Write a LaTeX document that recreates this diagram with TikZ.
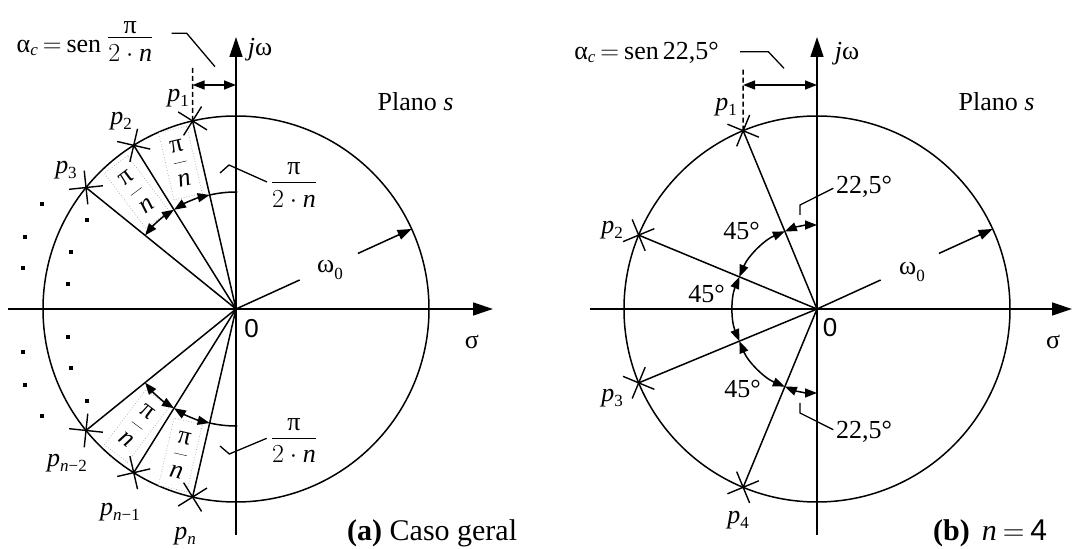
\documentclass[tikz,border=0pt]{standalone}
\usepackage{fix-cm}
\usepackage{fontspec}
\setmainfont{Liberation Serif}
\newfontfamily\sansf{Liberation Sans}
\usetikzlibrary{arrows.meta,shapes.misc}
\newcommand{\subs}[2][5pt]{\raisebox{-#1}{\fontsize{17}{17}\selectfont #2}}
\newcommand{\pp}[1]{\textit{p}\subs{#1}}
\newcommand{\pin}{$\displaystyle\frac{\mbox{π}}{\mbox{\itshape n}}$}
\newcommand{\pitn}{$\displaystyle\frac{\smash{\raisebox{-3pt}{π}}}{2\cdot\mbox{\itshape n}}$}
\tikzset{
  ln/.style={line width=1.5pt},
  axisln/.style={line width=1.3pt,-{Triangle[length=20pt,width=13pt]}},
  arr/.style={line width=1.5pt,-{Triangle[length=14pt,width=10pt]}},
  dbl/.style={line width=1.5pt,{Triangle[length=12pt,width=9pt]}-{Triangle[length=12pt,width=9pt]}},
  dashln/.style={line width=1.6pt,dash pattern=on 5pt off 3pt},
  leader/.style={line width=1.3pt},
  pole/.style={draw,cross out,minimum size=22.6pt,inner sep=0pt,line width=1.4pt},
  pibox/.style={draw=gray!70,dotted,line width=0.7pt,fill=white,minimum width=29pt,minimum height=69pt,inner sep=0pt},
  lab/.style={inner sep=0pt}
}
\begin{document}
\begin{tikzpicture}[x=1pt,y=1pt,font=\fontsize{26}{31}\selectfont]
\useasboundingbox (0,0) rectangle (1072,549);
% ================= left figure =================
\begin{scope}[shift={(236,240)}]
  \coordinate (aO) at (0,0);
  \coordinate (aSl) at (-228,0); \coordinate (aSr) at (257,0);
  \coordinate (aJb) at (0,-226); \coordinate (aJt) at (0,272);
  \draw[ln] (aO) circle[radius=193];
  \draw[axisln] (aSl) -- (aSr);
  \draw[axisln] (aJb) -- (aJt);
  \node[pibox,rotate=13] (aB1) at (-55.6,146) {\pin};
  \node[pibox,rotate=37] (aB2) at (-99.3,117) {\pin};
  \node[pibox,rotate=-37] (aB3) at (-99.3,-117) {\pin};
  \node[pibox,rotate=-13] (aB4) at (-55.6,-146) {\pin};
  \foreach \nm/\ang in {a1/103,a2/122,a3/141,a4/219,a5/238,a6/257}{
    \node[pole,rotate=\ang] (\nm) at (\ang:193) {};
    \draw[ln] (aO) -- (\nm.center);
  }
  \coordinate (aE1) at (0,117); \coordinate (aE2) at (0,-117);
  \draw[ln] (aE1) arc[start angle=90,end angle=103,radius=117];
  \draw[dbl] (103:117) arc[start angle=103,end angle=122,radius=117];
  \draw[dbl] (122:117) arc[start angle=122,end angle=141,radius=117];
  \draw[dbl] (219:117) arc[start angle=219,end angle=238,radius=117];
  \draw[dbl] (238:117) arc[start angle=238,end angle=257,radius=117];
  \draw[ln] (257:117) arc[start angle=257,end angle=270,radius=117];
  \fill (aE1) circle[radius=1.7]; \fill (aE2) circle[radius=1.7];
  % omega_0
  \coordinate (aW1) at (24.5:70); \coordinate (aW2) at (24.5:134); \coordinate (aW3) at (24.5:193);
  \draw[ln] (aO) -- (aW1);
  \draw[arr] (aW2) -- (aW3);
  \node[lab] (aW) at (94,39) {ω\subs[7pt]{0}};
  % alpha_c
  \coordinate (aD) at (-43.4,242);
  \draw[dashln] (a1.center) -- (aD);
  \coordinate (aA1) at (-43.4,224); \coordinate (aA2) at (0,224);
  \draw[dbl] (aA1) -- (aA2);
  \coordinate (aL1) at (-64.3,275.7); \coordinate (aL2) at (-49.3,275.7); \coordinate (aL3) at (-21,242.3);
  \draw[leader] (aL1) -- (aL2) -- (aL3);
  \node[anchor=base,lab] (aAlpha) at (-151,256) {α\subs[3pt]{\textit{c}}\hspace{5pt}$=$\hspace{5pt}sen\hspace{6pt}\raisebox{9.2pt}{$\displaystyle\frac{\smash{\raisebox{-7pt}{π}}}{2\cdot\mbox{\itshape n}}$}};
  % pi/(2n) labels
  \coordinate (aK1) at (-16,136); \coordinate (aK2) at (-7,144); \coordinate (aK3) at (31,127);
  \draw[leader] (aK1) -- (aK2) -- (aK3);
  \node[anchor=base,lab] (aF1) at (58,119.8) {\pitn};
  \coordinate (aK4) at (-16,-137); \coordinate (aK5) at (-6.7,-145); \coordinate (aK6) at (30.7,-129.3);
  \draw[leader] (aK4) -- (aK5) -- (aK6);
  \node[anchor=base,lab] (aF2) at (58,-135.8) {\pitn};
  % labels
  \node[lab] (a1L) at (-58,211) {\pp{1}};
  \node[lab] (a2L) at (-115,188) {\pp{2}};
  \node[lab] (a3L) at (-170,139) {\pp{3}};
  \node[lab] (a4L) at (-169,-154) {\pp{\textit{n}−2}};
  \node[lab] (a5L) at (-116,-203) {\pp{\textit{n}−1}};
  \node[lab] (a6L) at (-51,-227) {\pp{\textit{n}}};
  \node[lab] (aJL) at (24,259) {\textit{j}ω};
  \node[lab] (aZ) at (15.7,-19.3) {\sansf 0};
  \node[lab] (aSL) at (236,-32.5) {σ};
  \node[anchor=base,lab] (aPl) at (179.5,198.3) {Plano \textit{s}};
  \foreach \x/\y in {-194/105,-149/89,-211/72,-165/57,-213/41,-168/25,-168/-28,-213/-43,-165/-59,-211/-76,-149/-92,-194/-107}
    \fill (\x-1.9,\y-1.9) rectangle ++(3.8,3.8);
\end{scope}
% ================= right figure =================
\begin{scope}[shift={(817,240)}]
  \coordinate (bO) at (0,0);
  \coordinate (bSl) at (-227,0); \coordinate (bSr) at (255,0);
  \coordinate (bJb) at (0,-226); \coordinate (bJt) at (0,272);
  \draw[ln] (bO) circle[radius=193];
  \draw[axisln] (bSl) -- (bSr);
  \draw[axisln] (bJb) -- (bJt);
  \foreach \nm/\ang in {b1/112.5,b2/157.5,b3/202.5,b4/247.5}{
    \node[pole,rotate=\ang] (\nm) at (\ang:193) {};
    \draw[ln] (bO) -- (\nm.center);
  }
  \draw[dbl] (90:84) arc[start angle=90,end angle=112.5,radius=84];
  \draw[dbl] (112.5:84) arc[start angle=112.5,end angle=157.5,radius=84];
  \draw[dbl] (157.5:84) arc[start angle=157.5,end angle=202.5,radius=84];
  \draw[dbl] (202.5:84) arc[start angle=202.5,end angle=247.5,radius=84];
  \draw[dbl] (247.5:84) arc[start angle=247.5,end angle=270,radius=84];
  \node[lab] (bG1) at (-75.5,78) {45°};
  \node[lab] (bG2) at (-110.5,15) {45°};
  \node[lab] (bG3) at (-74.5,-80) {45°};
  \coordinate (bT1) at (-17,94); \coordinate (bT2) at (-17,104); \coordinate (bT3) at (16.3,120.7);
  \draw[leader] (bT1) -- (bT2) -- (bT3);
  \node[lab] (bH1) at (47,122.3) {22,5°};
  \coordinate (bT4) at (-17,-94); \coordinate (bT5) at (-17,-104); \coordinate (bT6) at (16.3,-120.7);
  \draw[leader] (bT4) -- (bT5) -- (bT6);
  \node[lab] (bH2) at (47,-123) {22,5°};
  % omega_0
  \coordinate (bW1) at (24.5:70); \coordinate (bW2) at (24.5:134); \coordinate (bW3) at (24.5:193);
  \draw[ln] (bO) -- (bW1);
  \draw[arr] (bW2) -- (bW3);
  \node[lab] (bW) at (95,37) {ω\subs[7pt]{0}};
  % alpha_c
  \coordinate (bD) at (-73.9,242);
  \draw[dashln] (b1.center) -- (bD);
  \coordinate (bA1) at (-73.9,224); \coordinate (bA2) at (0,224);
  \draw[dbl] (bA1) -- (bA2);
  \coordinate (bL1) at (-77,257.3); \coordinate (bL2) at (-48.7,257.3); \coordinate (bL3) at (-33,240.7);
  \draw[leader] (bL1) -- (bL2) -- (bL3);
  \node[anchor=base,lab] (bAlpha) at (-170.5,249) {α\subs[3pt]{\textit{c}}\hspace{5pt}$=$\hspace{5pt}sen\hspace{4pt}22,5°};
  % labels
  \node[lab] (b1L) at (-91,202) {\pp{1}};
  \node[lab] (b2L) at (-205,79) {\pp{2}};
  \node[lab] (b3L) at (-205,-89) {\pp{3}};
  \node[lab] (b4L) at (-79,-211) {\pp{4}};
  \node[lab] (bJL) at (30,255) {\textit{j}ω};
  \node[lab] (bZ) at (13,-18.5) {\sansf 0};
  \node[lab] (bSL) at (236,-33) {σ};
  \node[anchor=base,lab] (bPl) at (179.5,198.3) {Plano \textit{s}};
\end{scope}
% captions
\node[anchor=base west,lab,font=\fontsize{30}{34}\selectfont] (capA) at (347,8) {\textbf{(a)} Caso geral};
\node[anchor=base west,lab,font=\fontsize{30}{34}\selectfont] (capB) at (933,8) {\textbf{(b)}\hspace{12pt}\textit{n}\hspace{6pt}$=$\hspace{6pt}{\sansf 4}};
\end{tikzpicture}
\end{document}
